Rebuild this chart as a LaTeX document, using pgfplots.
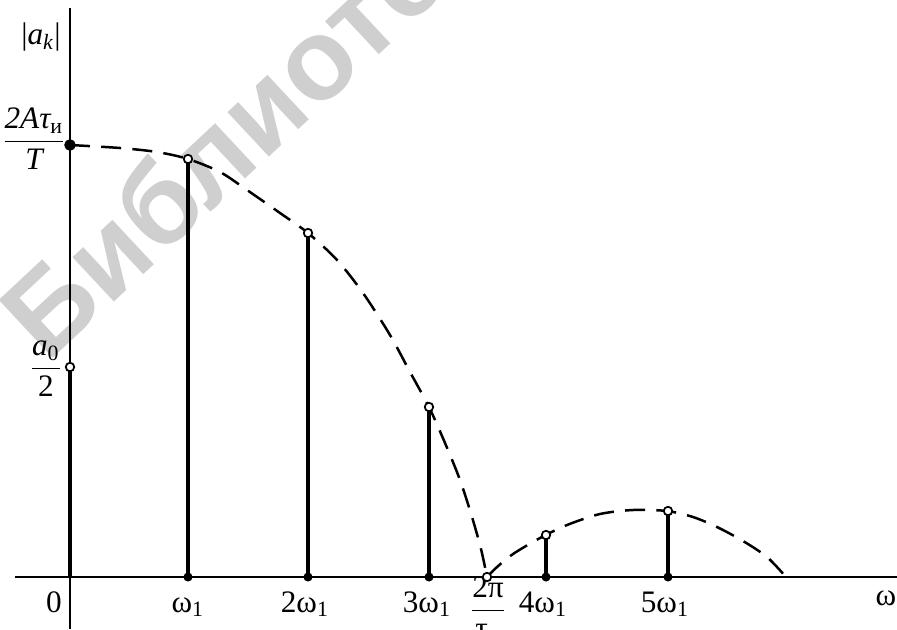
\documentclass[border=0pt]{standalone}
\usepackage{fontspec}
\setmainfont{Liberation Serif}
\newfontfamily\wmfont{Liberation Sans}
\usepackage{amsmath}
\usepackage{pgfplots}
\pgfplotsset{compat=1.18}
\newcommand\lbl{\fontsize{12.5}{14}\selectfont}
\begin{document}
\begin{tikzpicture}
\begin{axis}[
  width=358.8pt, height=251.6pt, scale only axis,
  xmin=-70, xmax=827, ymin=-52, ymax=577,
  hide axis, clip=false,
]
% watermark
\begin{scope}
\clip (axis cs:-70,-52) rectangle (axis cs:827,577);
\node[rotate=43, text=black!19, font=\wmfont\bfseries\fontsize{46}{50}\selectfont] at (axis cs:196,474) {Библиотека};
\end{scope}
% axes
\addplot[black, line width=1pt] coordinates {(-55,0) (827,0)};
\addplot[black, line width=1pt] coordinates {(0,-52) (0,569)};
% envelope, first lobe
\addplot[black, line width=1pt, smooth, dash pattern=on 8pt off 4.5pt] coordinates {
(0,432) (50,429) (87,425) (118,418) (150,405) (177,387) (210,364) (238,344)
(267,317) (293,284) (320,242) (340,205) (359,170) (375,134) (390,97)
(402,60) (411,28) (417,0)};
% envelope, second lobe
\addplot[black, line width=1pt, smooth, dash pattern=on 8pt off 4.5pt] coordinates {
(417,0) (427,10) (443,23) (470,39) (497,52) (530,63) (563,67) (597,66)
(623,60) (647,50) (673,36) (697,20) (716,0)};
% spectral lines
\addplot[ycomb, black, line width=1.6pt] coordinates {
(0,210) (118,418) (238,344) (359,170) (476,42) (598,66)};
% top markers (open)
\addplot[only marks, mark=*, mark size=1.7pt, mark options={fill=white, draw=black, line width=0.7pt}] coordinates {
(0,210) (118,418) (238,344) (359,170) (476,42) (598,66) (417,0)};
% base markers (filled)
\addplot[only marks, mark=*, mark size=1.6pt, black] coordinates {
(118,0) (238,0) (359,0) (476,0) (598,0)};
\addplot[only marks, mark=*, mark size=2.1pt, black] coordinates {(0,432)};
% labels
\node[font=\lbl] at (axis cs:-29,540) {|\textit{a}\textsubscript{\textit{k}}|};
\node[font=\lbl, anchor=base] at (axis cs:-36,428) {$\dfrac{\textit{2Aτ}\textsubscript{и}}{\textit{T}}$};
\node[font=\lbl, anchor=base] at (axis cs:-24,201) {$\dfrac{\textit{a}\textsubscript{0}}{\text{2}}$};
\node[font=\lbl, anchor=base] at (axis cs:-16,-35) {0};
\node[font=\lbl, anchor=base] at (axis cs:118,-35) {ω\textsubscript{1}};
\node[font=\lbl, anchor=base] at (axis cs:235,-35) {2ω\textsubscript{1}};
\node[font=\lbl, anchor=base] at (axis cs:357,-35) {3ω\textsubscript{1}};
\node[font=\lbl, anchor=base] at (axis cs:418,-41) {$\dfrac{\text{2π}}{\text{τ}\textsubscript{и}}$};
\node[font=\lbl, anchor=base] at (axis cs:473,-35) {4ω\textsubscript{1}};
\node[font=\lbl, anchor=base] at (axis cs:595,-35) {5ω\textsubscript{1}};
\node[font=\lbl, anchor=base] at (axis cs:816,-28) {ω};
\end{axis}
\pgfresetboundingbox
\path (current axis.south west) rectangle (current axis.north east);
\end{tikzpicture}
\end{document}
